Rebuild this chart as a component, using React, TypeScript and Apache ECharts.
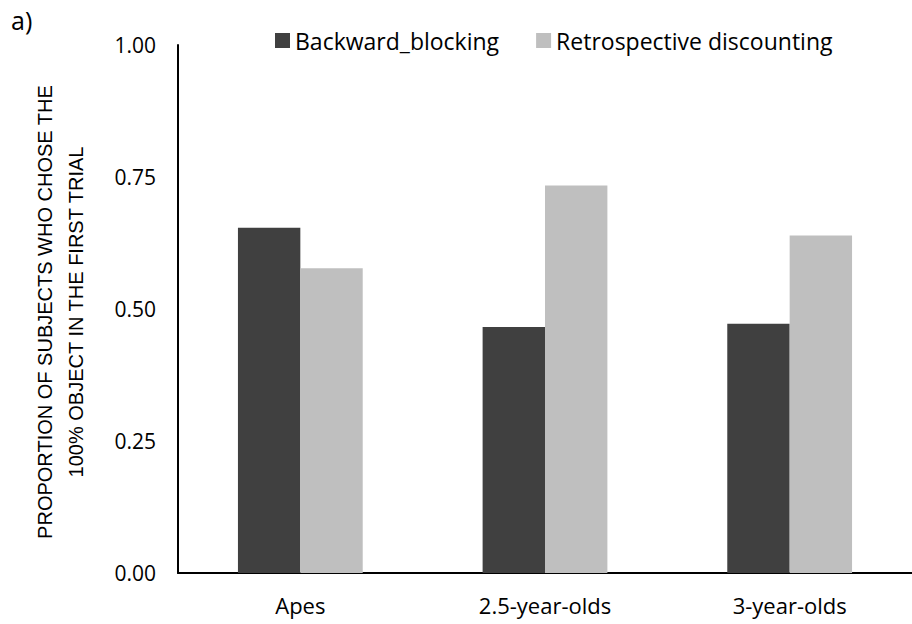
import React, { useEffect, useRef } from "react";
import * as echarts from "echarts";

const categories = ["Apes", "2.5-year-olds", "3-year-olds"];
const backwardBlocking = [0.654, 0.466, 0.472];
const retrospectiveDiscounting = [0.577, 0.734, 0.639];
const seriesNames = ["Backward_blocking", "Retrospective discounting"];
const yTicks = { min: 0, max: 1, interval: 0.25 };
const yTitle = ["PROPORTION OF SUBJECTS WHO CHOSE THE", "100% OBJECT IN THE FIRST TRIAL"];

const FONT = "Open Sans";
const TITLE_FONT = "Liberation Sans";

export default function App() {
  const ref = useRef<HTMLDivElement>(null);

  useEffect(() => {
    document.body.style.margin = "0";
    const chart = echarts.init(ref.current!, null, { renderer: "svg" });
    chart.setOption({
      animation: false,
      backgroundColor: "#ffffff",
      textStyle: { fontFamily: FONT },
      grid: { left: 178, right: 0, top: 45, bottom: 51, containLabel: false },
      legend: {
        top: 24,
        left: 270,
        itemWidth: 15,
        itemHeight: 15,
        itemGap: 37,
        icon: "rect",
        textStyle: { fontSize: 23, color: "#000", fontFamily: FONT },
        data: seriesNames,
      },
      graphic: [
        {
          type: "text",
          left: 11,
          top: 7,
          style: { text: "a)", fontSize: 25, fill: "#000", fontFamily: FONT },
        },
        {
          type: "text",
          x: 60,
          y: 312,
          rotation: Math.PI / 2,
          style: {
            text: yTitle.join("\n"),
            fontSize: 20,
            lineHeight: 31,
            fill: "#000",
            align: "center",
            verticalAlign: "middle",
            fontFamily: TITLE_FONT,
          },
        },
      ],
      xAxis: {
        type: "category",
        data: categories,
        axisLine: { show: true, lineStyle: { color: "#000", width: 2 } },
        axisTick: { show: false },
        axisLabel: { fontSize: 22, color: "#000", margin: 21, fontFamily: FONT },
      },
      yAxis: {
        type: "value",
        min: yTicks.min,
        max: yTicks.max,
        interval: yTicks.interval,
        splitLine: { show: false },
        axisLine: { show: true, lineStyle: { color: "#000", width: 2 } },
        axisTick: { show: false },
        axisLabel: {
          fontSize: 21,
          color: "#000",
          margin: 22,
          fontFamily: FONT,
          formatter: (v: number) => v.toFixed(2),
        },
      },
      series: [
        {
          name: seriesNames[0],
          type: "bar",
          data: backwardBlocking,
          itemStyle: { color: "#404040" },
          barGap: "0%",
          barCategoryGap: "49%",
        },
        {
          name: seriesNames[1],
          type: "bar",
          data: retrospectiveDiscounting,
          itemStyle: { color: "#bfbfbf" },
          barGap: "0%",
          barCategoryGap: "49%",
        },
      ],
    });
    return () => chart.dispose();
  }, []);

  return <div ref={ref} style={{ width: 912, height: 624 }} />;
}
